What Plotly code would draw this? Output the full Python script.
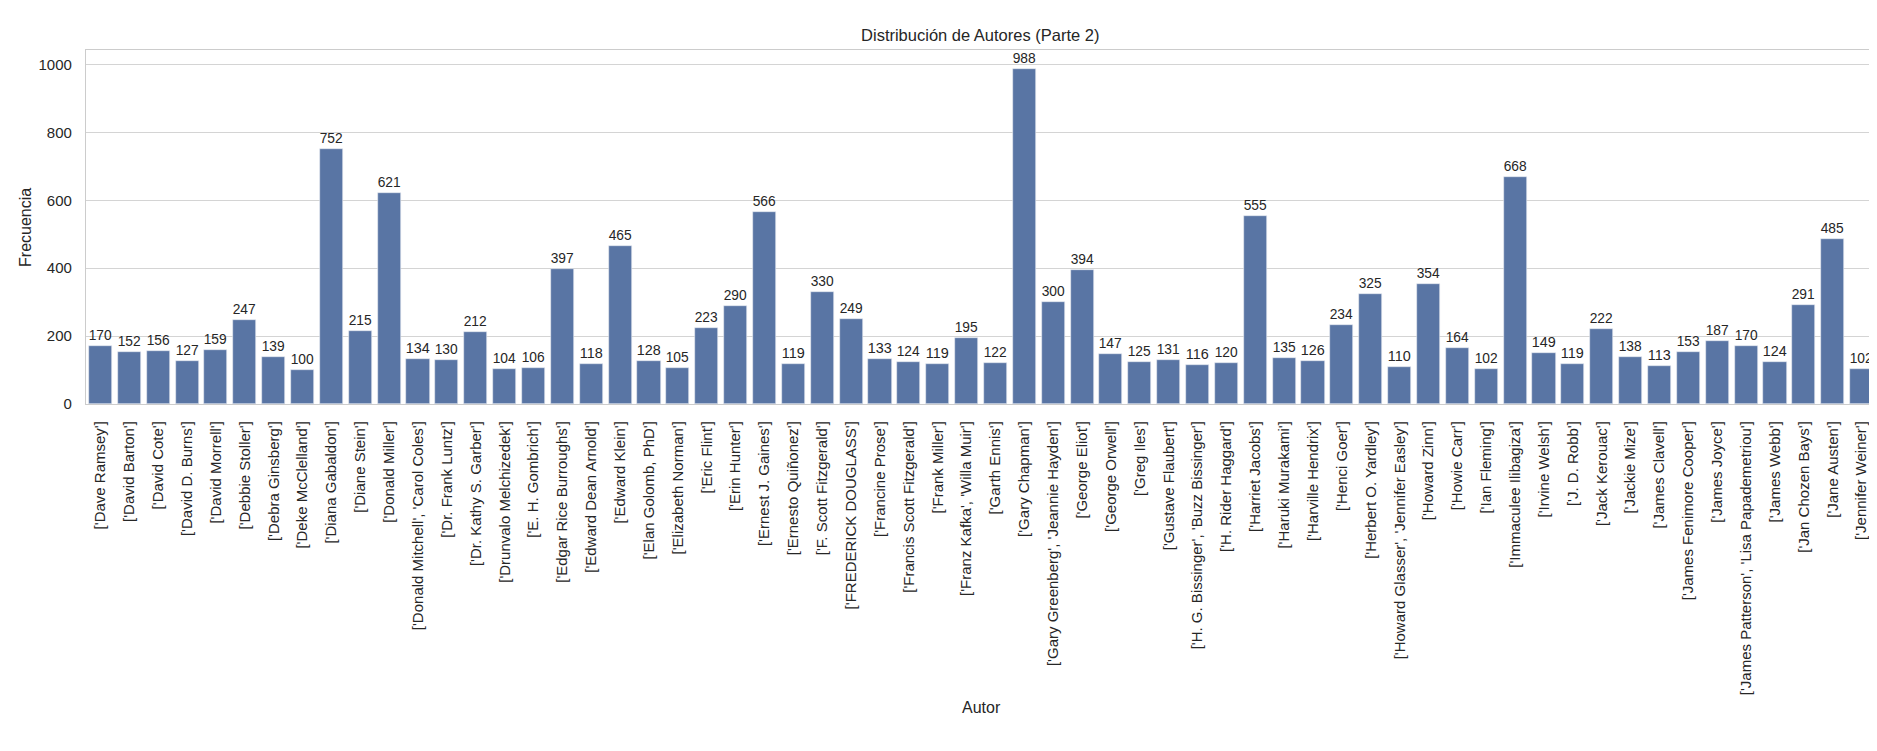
import plotly.graph_objects as go

autores = [
    "['Dave Ramsey']", "['David Barton']", "['David Cote']", "['David D. Burns']",
    "['David Morrell']", "['Debbie Stoller']", "['Debra Ginsberg']", "['Deke McClelland']",
    "['Diana Gabaldon']", "['Diane Stein']", "['Donald Miller']",
    "['Donald Mitchell', 'Carol Coles']", "['Dr. Frank Luntz']", "['Dr. Kathy S. Garber']",
    "['Drunvalo Melchizedek']", "['E. H. Gombrich']", "['Edgar Rice Burroughs']",
    "['Edward Dean Arnold']", "['Edward Klein']", "['Elan Golomb, PhD']",
    "['Elizabeth Norman']", "['Eric Flint']", "['Erin Hunter']", "['Ernest J. Gaines']",
    "['Ernesto Quiñonez']", "['F. Scott Fitzgerald']", "['FREDERICK DOUGLASS']",
    "['Francine Prose']", "['Francis Scott Fitzgerald']", "['Frank Miller']",
    "['Franz Kafka', 'Willa Muir']", "['Garth Ennis']", "['Gary Chapman']",
    "['Gary Greenberg', 'Jeannie Hayden']", "['George Eliot']", "['George Orwell']",
    "['Greg Iles']", "['Gustave Flaubert']", "['H. G. Bissinger', 'Buzz Bissinger']",
    "['H. Rider Haggard']", "['Harriet Jacobs']", "['Haruki Murakami']",
    "['Harville Hendrix']", "['Henci Goer']", "['Herbert O. Yardley']",
    "['Howard Glasser', 'Jennifer Easley']", "['Howard Zinn']", "['Howie Carr']",
    "['Ian Fleming']", "['Immaculee Ilibagiza']", "['Irvine Welsh']", "['J. D. Robb']",
    "['Jack Kerouac']", "['Jackie Mize']", "['James Clavell']",
    "['James Fenimore Cooper']", "['James Joyce']",
    "['James Patterson', 'Lisa Papademetriou']", "['James Webb']",
    "['Jan Chozen Bays']", "['Jane Austen']", "['Jennifer Weiner']",
]

frecuencias = [
    170, 152, 156, 127, 159, 247, 139, 100, 752, 215, 621,
    134, 130, 212, 104, 106, 397, 118, 465, 128, 105, 223,
    290, 566, 119, 330, 249, 133, 124, 119, 195, 122, 988,
    300, 394, 147, 125, 131, 116, 120, 555, 135, 126, 234,
    325, 110, 354, 164, 102, 668, 149, 119, 222, 138, 113,
    153, 187, 170, 124, 291, 485, 102,
]

font_fam = "Liberation Sans, Arial, sans-serif"
gris = "#262626"

fig = go.Figure(go.Bar(
    x=list(range(len(autores))),
    y=frecuencias,
    width=0.8,
    marker=dict(color="#5975a4", line=dict(color="#e8ecf3", width=0.6)),
    text=[str(v) for v in frecuencias],
    textposition="outside",
    textfont=dict(family=font_fam, size=14.5, color=gris),
    cliponaxis=False,
))

fig.update_layout(
    width=1877, height=751,
    margin=dict(l=78, r=9, t=42, b=355),
    plot_bgcolor="white", paper_bgcolor="white",
    font=dict(family=font_fam, size=15, color=gris),
    showlegend=False,
    bargap=0,
    title=dict(text="Distribución de Autores (Parte 2)", x=0.518, xanchor="center",
               y=0.964, yanchor="middle", font=dict(size=16.5, color=gris)),
    xaxis=dict(
        tickmode="array", tickvals=list(range(len(autores))), ticktext=autores,
        tickangle=-90, range=[-0.5, len(autores) - 0.5],
        showgrid=False, showline=True, linecolor="#cccccc", linewidth=1.25,
        mirror=True, ticks="", ticklabelstandoff=10,
        tickfont=dict(size=15, color=gris), automargin=False,
    ),
    yaxis=dict(
        range=[0, 1043], tickvals=[0, 200, 400, 600, 800, 1000],
        showgrid=True, gridcolor="#d4d4d4", gridwidth=1,
        showline=True, linecolor="#cccccc", linewidth=1.25, mirror=True,
        zeroline=False, ticks="", ticklabelstandoff=10,
        tickfont=dict(size=15, color=gris), automargin=False,
    ),
    annotations=[
        dict(text="Autor", xref="paper", yref="paper", x=0.5, y=-0.856,
             showarrow=False, font=dict(size=16, color=gris),
             xanchor="center", yanchor="middle"),
        dict(text="Frecuencia", xref="paper", yref="paper", x=-0.0341, y=0.5,
             showarrow=False, textangle=-90, font=dict(size=16, color=gris),
             xanchor="center", yanchor="middle"),
    ],
)

fig.write_html("out.html")
